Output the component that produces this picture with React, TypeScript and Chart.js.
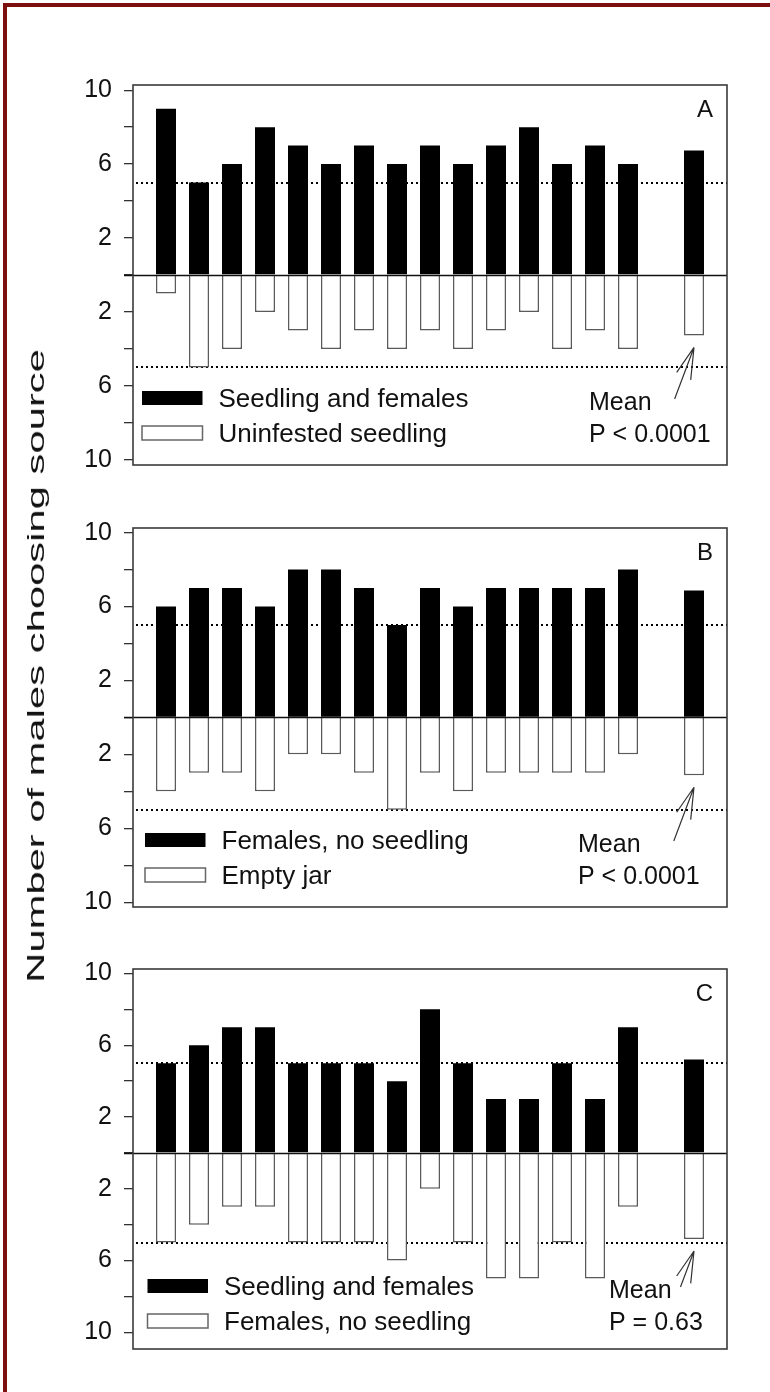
import React, { useEffect, useRef } from 'react';
import { Chart, registerables } from 'chart.js';

Chart.register(...registerables);

// ---------- data ----------
const trials = ['1', '2', '3', '4', '5', '6', '7', '8', '9', '10', '11', '12', '13', '14', '15'];
const categories = ['', ...trials, '', 'Mean', ''];

const yTickValues = [-10, -8, -6, -4, -2, 0, 2, 4, 6, 8, 10];
const labeledTicks = [2, 6, 10];
const chanceLevel = 5;

// Panel A
const aChoice = [9, 5, 6, 8, 7, 6, 7, 6, 7, 6, 7, 8, 6, 7, 6];
const aChoiceMean = 6.73;
const aAlt = [1, 5, 4, 2, 3, 4, 3, 4, 3, 4, 3, 2, 4, 3, 4];
const aAltMean = 3.27;
const aLabels = ['Seedling and females', 'Uninfested seedling'];
const aP = 'P < 0.0001';

// Panel B
const bChoice = [6, 7, 7, 6, 8, 8, 7, 5, 7, 6, 7, 7, 7, 7, 8];
const bChoiceMean = 6.87;
const bAlt = [4, 3, 3, 4, 2, 2, 3, 5, 3, 4, 3, 3, 3, 3, 2];
const bAltMean = 3.13;
const bLabels = ['Females, no seedling', 'Empty jar'];
const bP = 'P < 0.0001';

// Panel C
const cChoice = [5, 6, 7, 7, 5, 5, 5, 4, 8, 5, 3, 3, 5, 3, 7];
const cChoiceMean = 5.2;
const cAlt = [5, 4, 3, 3, 5, 5, 5, 6, 2, 5, 7, 7, 5, 7, 3];
const cAltMean = 4.8;
const cLabels = ['Seedling and females', 'Females, no seedling'];
const cP = 'P = 0.63';

const yTitle = 'Number of males choosing source';
const meanWord = 'Mean';

// ---------- layout ----------
const FONT = '"Liberation Sans", Arial, Helvetica, sans-serif';
const W = 770;
const PLOT_LEFT = 133;
const PLOT_RIGHT = 727;
const PAD = 20;

type PanelCfg = {
  letter: string;
  choice: number[];
  choiceMean: number;
  alt: number[];
  altMean: number;
  labels: string[];
  pText: string;
  top: number;
  bottom: number;
  yMin: number;
  yMax: number;
  legendX: number;
  rows: number[];
  meanTextX: number;
};

const panels: PanelCfg[] = [
  {
    letter: 'A', choice: aChoice, choiceMean: aChoiceMean, alt: aAlt, altMean: aAltMean,
    labels: aLabels, pText: aP, top: 78, bottom: 472, yMin: -10.28, yMax: 10.28,
    legendX: 142, rows: [67, 32], meanTextX: 589,
  },
  {
    letter: 'B', choice: bChoice, choiceMean: bChoiceMean, alt: bAlt, altMean: bAltMean,
    labels: bLabels, pText: bP, top: 521, bottom: 914, yMin: -10.26, yMax: 10.25,
    legendX: 145, rows: [67, 32], meanTextX: 578,
  },
  {
    letter: 'C', choice: cChoice, choiceMean: cChoiceMean, alt: cAlt, altMean: cAltMean,
    labels: cLabels, pText: cP, top: 962, bottom: 1356, yMin: -10.93, yMax: 10.25,
    legendX: 147.5, rows: [63, 28], meanTextX: 609,
  },
];

function padSeries(vals: number[], mean: number): (number | null)[] {
  return [null, ...vals, null, mean, null];
}

const decoPlugin = {
  id: 'panelDeco',
  beforeDatasetsDraw(chart: any, _a: any, opts: any) {
    const { ctx, chartArea: ca, scales } = chart;
    const y = scales.y;
    ctx.save();
    ctx.strokeStyle = '#000';
    ctx.lineWidth = 2;
    ctx.setLineDash([2, 3]);
    for (const v of [chanceLevel, -chanceLevel]) {
      const py = Math.round(y.getPixelForValue(v));
      ctx.beginPath();
      ctx.moveTo(ca.left + 3, py);
      ctx.lineTo(ca.right, py);
      ctx.stroke();
    }
    ctx.restore();
  },
  afterDatasetsDraw(chart: any, _a: any, opts: any) {
    const { ctx, chartArea: ca, scales } = chart;
    const y = scales.y;
    const cfg: PanelCfg = opts.cfg;
    ctx.save();
    // zero line
    const y0 = Math.round(y.getPixelForValue(0)) + 0.5;
    ctx.strokeStyle = '#111';
    ctx.lineWidth = 1.3;
    ctx.beginPath();
    ctx.moveTo(ca.left - 9, y0);
    ctx.lineTo(ca.right, y0);
    ctx.stroke();
    // box
    ctx.strokeStyle = '#3a3a3a';
    ctx.lineWidth = 1.6;
    ctx.strokeRect(ca.left, ca.top, ca.right - ca.left, ca.bottom - ca.top);

    // legend
    const r1 = ca.bottom - cfg.rows[0];
    const r2 = ca.bottom - cfg.rows[1];
    const sw = 60.5, sh = 14;
    ctx.fillStyle = '#000';
    ctx.fillRect(cfg.legendX, r1 - sh / 2, sw, sh);
    ctx.fillStyle = '#fff';
    ctx.fillRect(cfg.legendX, r2 - sh / 2, sw, sh);
    ctx.strokeStyle = '#666';
    ctx.lineWidth = 1.5;
    ctx.strokeRect(cfg.legendX, r2 - sh / 2, sw, sh);
    ctx.fillStyle = '#111';
    ctx.font = `26px ${FONT}`;
    ctx.textAlign = 'left';
    ctx.textBaseline = 'alphabetic';
    ctx.fillText(cfg.labels[0], cfg.legendX + sw + 16, r1 + 9.3);
    ctx.fillText(cfg.labels[1], cfg.legendX + sw + 16, r2 + 9.3);

    // mean / P annotation
    ctx.font = `25px ${FONT}`;
    ctx.fillText(meanWord, cfg.meanTextX, r1 + 3 + 9);
    ctx.fillText(cfg.pText, cfg.meanTextX, r2 + 9);

    // panel letter
    ctx.font = `24px ${FONT}`;
    ctx.textAlign = 'right';
    ctx.fillText(cfg.letter, ca.right - 14, ca.top + 32);

    // arrow to mean bar
    const meta = chart.getDatasetMeta(1);
    const idx = categories.indexOf('Mean');
    const el = meta.data[idx];
    if (el) {
      const tipX = el.x;
      const tipY = el.y + 12;
      const tailY = r1 + 1;
      const dy = tailY - tipY;
      const tailX = tipX - dy * 0.376;
      ctx.strokeStyle = '#333';
      ctx.lineWidth = 1.2;
      ctx.beginPath();
      ctx.moveTo(tailX, tailY);
      ctx.lineTo(tipX, tipY);
      ctx.moveTo(tipX, tipY);
      ctx.lineTo(tipX - 17.3, tipY + 25);
      ctx.moveTo(tipX, tipY);
      ctx.lineTo(tipX - 3.3, tipY + 32.4);
      ctx.stroke();
    }
    ctx.restore();
  },
};

function Panel({ cfg }: { cfg: PanelCfg }) {
  const ref = useRef<HTMLCanvasElement>(null);
  const h = cfg.bottom - cfg.top + 2 * PAD;
  useEffect(() => {
    const canvas = ref.current;
    if (!canvas) return;
    const chart = new Chart(canvas, {
      type: 'bar',
      data: {
        labels: categories,
        datasets: [
          {
            label: cfg.labels[0],
            data: padSeries(cfg.choice, cfg.choiceMean),
            backgroundColor: '#000',
            borderWidth: 0,
            barPercentage: 20 / 33,
            categoryPercentage: 1,
          },
          {
            label: cfg.labels[1],
            data: padSeries(cfg.alt, cfg.altMean).map((v) => (v == null ? null : -v)),
            backgroundColor: '#fff',
            borderColor: '#5a5a5a',
            borderWidth: 1.5,
            barPercentage: 20 / 33,
            categoryPercentage: 1,
          },
        ],
      } as any,
      options: {
        responsive: false,
        maintainAspectRatio: false,
        animation: false,
        devicePixelRatio: 1,
        layout: { padding: { left: 0, right: W - PLOT_RIGHT, top: PAD, bottom: PAD } },
        plugins: {
          legend: { display: false },
          tooltip: { enabled: false },
          panelDeco: { cfg },
        } as any,
        scales: {
          x: {
            type: 'category',
            offset: false,
            stacked: true,
            display: false,
            grid: { display: false },
          },
          y: {
            stacked: true,
            min: cfg.yMin,
            max: cfg.yMax,
            afterFit: (s: any) => {
              s.width = PLOT_LEFT;
            },
            afterBuildTicks: (s: any) => {
              s.ticks = yTickValues.map((v) => ({ value: v }));
            },
            ticks: {
              callback: (v: any) => {
                const a = Math.abs(Number(v));
                return labeledTicks.includes(a) ? String(a) : '';
              },
              font: { family: FONT, size: 25 },
              color: '#111',
              padding: 12,
              autoSkip: false,
            },
            grid: {
              drawOnChartArea: false,
              drawTicks: true,
              tickLength: 9,
              color: '#333',
              lineWidth: 1.3,
            },
            border: { display: false },
          },
        },
      } as any,
      plugins: [decoPlugin],
    });
    return () => chart.destroy();
  }, [cfg]);
  return (
    <canvas
      ref={ref}
      width={W}
      height={h}
      style={{ position: 'absolute', left: 0, top: cfg.top - PAD, width: W, height: h }}
    />
  );
}

export default function App() {
  return (
    <div
      style={{
        position: 'absolute',
        left: 0,
        top: 0,
        width: W,
        height: 1392,
        background: '#fff',
        overflow: 'hidden',
      }}
    >
      <div
        style={{
          position: 'absolute',
          left: 3,
          top: 3,
          width: 900,
          height: 1600,
          borderLeft: '4px solid #7c1010',
          borderTop: '4px solid #7c1010',
          boxSizing: 'border-box',
        }}
      />
      {panels.map((p) => (
        <Panel key={p.letter} cfg={p} />
      ))}
      <div
        style={{
          position: 'absolute',
          left: 36,
          top: 666,
          transform: 'translate(-50%, -50%) rotate(-90deg) scaleX(1.74)',
          whiteSpace: 'nowrap',
          font: `24px ${FONT}`,
          color: '#111',
          lineHeight: 1,
        }}
      >
        {yTitle}
      </div>
    </div>
  );
}
